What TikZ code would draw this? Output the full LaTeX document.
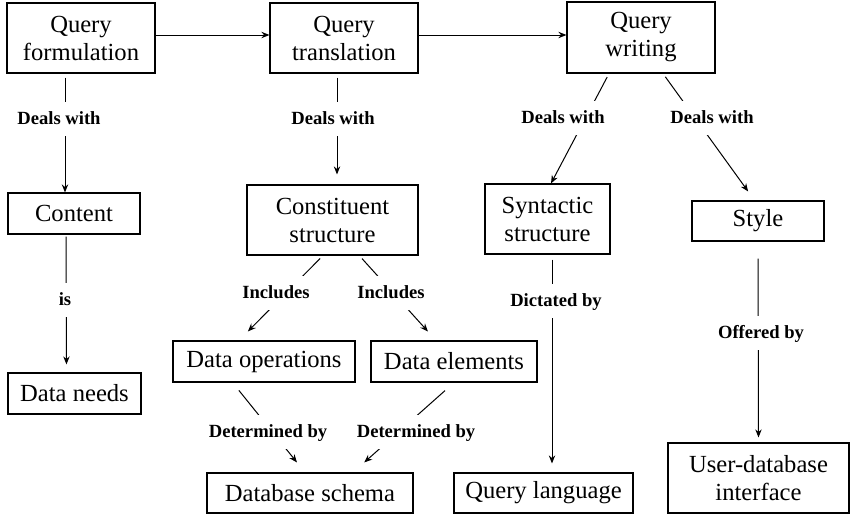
\documentclass[tikz,border=0pt]{standalone}
\usepackage{fontspec}
\setmainfont{Liberation Serif}
\usetikzlibrary{arrows.meta}

\begin{document}
\begin{tikzpicture}[
  x=0.5pt, y=-0.5pt,
  box/.style={rectangle, draw, line width=0.6pt, align=center, inner sep=0pt,
              font=\fontsize{12.3}{14}\selectfont},
  lbl/.style={fill=white, inner xsep=2pt, inner ysep=4pt, text height=7pt,
              text depth=2pt, font=\fontsize{9.3}{11}\selectfont\bfseries},
  arr/.style={-{Stealth[length=4pt, width=3.2pt]}, line width=0.5pt}
]
  \useasboundingbox (0,0) rectangle (850,514);
  \node[box, minimum width=74pt, minimum height=35pt]   (QF) at (81,38)    {Query\\formulation};
  \node[box, minimum width=74pt, minimum height=35pt]   (QT) at (344,38)   {Query\\translation};
  \node[box, minimum width=74pt, minimum height=35.5pt] (QW) at (641,37.5) {Query\\writing};
  \node[box, minimum width=66pt, minimum height=20.5pt] (C)  at (74,213.5) {Content};
  \node[box, minimum width=66.5pt, minimum height=20.5pt] (DN) at (74.5,393.5) {Data needs};
  \node[box, minimum width=85.5pt, minimum height=35pt] (CS) at (332.5,220) {Constituent\\structure};
  \node[box, minimum width=62.5pt, minimum height=35pt] (SS) at (547.5,219) {Syntactic\\structure};
  \node[box, minimum width=66pt, minimum height=20pt]   (S)  at (758,221)  {Style};
  \node[box, minimum width=91pt, minimum height=20.5pt] (DO) at (264,361.5) {Data operations};
  \node[box, minimum width=83pt, minimum height=20.5pt] (DE) at (454,361.5) {Data elements};
  \node[box, minimum width=103pt, minimum height=20pt]  (DS) at (310,493)  {Database schema};
  \node[box, minimum width=89.5pt, minimum height=20pt] (QL) at (543.5,493) {Query language};
  \node[box, minimum width=90.5pt, minimum height=35pt] (UI) at (758.5,478) {User-database\\interface};
  \draw[arr] ([yshift=1.5pt]QF.east) -- ([yshift=1.5pt]QT.west);
  \draw[arr] ([yshift=1.5pt]QT.east) -- ([yshift=1.25pt]QW.west);
  \draw[arr, shorten <=2pt] ([xshift=-8pt]QF.south) -- ([xshift=-4.5pt]C.north);
  \draw[arr, shorten <=2pt, shorten >=5pt] ([xshift=-3.5pt]QT.south) -- ([xshift=2.25pt]CS.north);
  \draw[arr, shorten <=2pt] ([xshift=-16pt]QW.south) -- ([xshift=1.75pt]SS.north);
  \draw[arr, shorten <=2pt, shorten >=5.5pt] ([xshift=11pt]QW.south) -- ([xshift=-1.7pt]S.north);
  \draw[arr, shorten <=1pt, shorten >=4pt] ([xshift=-4pt]C.south) -- ([xshift=-4pt]DN.north);
  \draw[arr, shorten <=2pt, shorten >=6.3pt] ([xshift=-4.75pt]CS.south) -- ([xshift=-12.5pt]DO.north);
  \draw[arr, shorten <=2pt, shorten >=6pt] ([xshift=13.4pt]CS.south) -- ([xshift=-9pt]DE.north);
  \draw[arr, shorten <=2.5pt, shorten >=4.5pt] ([xshift=2.25pt]SS.south) -- ([xshift=4.25pt]QL.north);
  \draw[arr, shorten <=8.5pt, shorten >=2.5pt] (S.south) -- (UI.north);
  \draw[arr, shorten <=5pt, shorten >=6.4pt] ([xshift=-15.7pt]DO.south) -- ([xshift=-2.5pt]DS.north);
  \draw[arr, shorten <=6pt, shorten >=7.5pt] (DE.south) -- ([xshift=21.5pt]DS.north);
  \node[lbl] (d1) at (59,119)  {Deals with};
  \node[lbl] (d2) at (333,119) {Deals with};
  \node[lbl] (d3) at (563,118) {Deals with};
  \node[lbl] (d4) at (712,118) {Deals with};
  \node[lbl] (is) at (65,300)  {is};
  \node[lbl] (i1) at (276,293) {Includes};
  \node[lbl] (i2) at (391,293) {Includes};
  \node[lbl] (dc) at (556,301) {Dictated by};
  \node[lbl] (ob) at (761,333) {Offered by};
  \node[lbl] (t1) at (268,432) {Determined by};
  \node[lbl] (t2) at (416,432) {Determined by};
\end{tikzpicture}
\end{document}
